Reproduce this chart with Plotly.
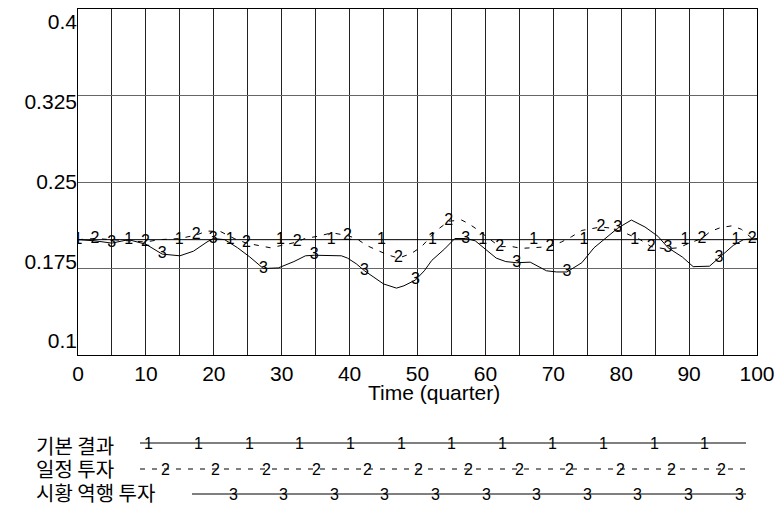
import numpy as np
import plotly.graph_objects as go

# ---------------- data ----------------
series_names = ["기본 결과", "일정 투자", "시황 역행 투자"]

# label positions along the curves (Vensim-style numbered lines)
label_t1 = [0, 7.45, 14.9, 22.4, 29.8, 37.3, 44.7, 52.2, 59.6, 67.1, 74.5, 82.0, 89.4, 96.9]
label_t2 = [2.48, 9.93, 17.4, 24.8, 32.3, 39.7, 47.2, 54.6, 62.1, 69.5, 77.0, 84.4, 91.9, 99.3]
label_t3 = [4.97, 12.4, 19.9, 27.3, 34.8, 42.2, 49.7, 57.1, 64.6, 72.0, 79.5, 86.9, 94.4]

# series 1: 기본 결과 (constant)
t1 = [0, 7.45, 14.9, 22.4, 29.8, 37.3, 44.7, 52.2, 59.6, 67.1, 74.5, 82.0, 89.4, 96.9, 100]
v1 = [0.2, 0.2, 0.2, 0.2, 0.2, 0.2, 0.2, 0.2, 0.2, 0.2, 0.2, 0.2, 0.2, 0.2, 0.2]

# series 2: 일정 투자
t2 = [0, 2.48, 5, 7.45, 9.93, 12, 15, 17.4, 19, 21, 23, 24.8, 26.3, 28.3, 30, 32.3,
      33.4, 35.4, 37.4, 39.7, 41, 42.5, 44, 45.7, 47.2, 49.1, 50.6, 52.8, 54.6, 56.5,
      57.5, 59, 60.5, 62.1, 63.9, 65.3, 67, 69.5, 71.2, 72.7, 74.2, 77.0, 78.5, 80.5,
      82.8, 84.4, 86.5, 88.5, 90, 91.9, 93.1, 94.6, 96.3, 97.7, 99.3, 100]
v2 = [0.200, 0.201, 0.200, 0.199, 0.198, 0.200, 0.201, 0.204, 0.2075, 0.207, 0.201,
      0.197, 0.1953, 0.193, 0.195, 0.198, 0.201, 0.203, 0.206, 0.2035, 0.201, 0.195,
      0.191, 0.1867, 0.184, 0.188, 0.194, 0.208, 0.216, 0.217, 0.214, 0.208, 0.201,
      0.194, 0.194, 0.1925, 0.193, 0.194, 0.198, 0.2026, 0.208, 0.211, 0.210, 0.206,
      0.200, 0.194, 0.192, 0.193, 0.197, 0.201, 0.207, 0.2104, 0.212, 0.209, 0.201, 0.199]

# series 3: 시황 역행 투자
t3 = [0, 2.5, 4.97, 7.45, 10, 12.4, 15, 17, 19, 19.9, 21.6, 23.5, 25.3, 27.3, 29.5,
      31.8, 33.5, 34.8, 38.8, 39.7, 41, 42.2, 45, 46.9, 48, 49.7, 51, 52.1, 54, 55.5,
      57.1, 58.5, 61.6, 63, 64.6, 66.6, 69, 70.5, 72.0, 74.2, 76, 79.5, 81.5, 83.5,
      85.4, 86.9, 89, 90.6, 93, 94.4, 96.5, 98, 100]
v3 = [0.200, 0.199, 0.197, 0.200, 0.196, 0.1875, 0.186, 0.190, 0.198, 0.201, 0.200,
      0.193, 0.185, 0.175, 0.1755, 0.181, 0.186, 0.1865, 0.186, 0.184, 0.179, 0.173,
      0.1616, 0.158, 0.160, 0.165, 0.173, 0.182, 0.192, 0.201, 0.201, 0.199, 0.184,
      0.181, 0.180, 0.1805, 0.173, 0.172, 0.172, 0.180, 0.193, 0.210, 0.217, 0.211,
      0.203, 0.193, 0.185, 0.1766, 0.177, 0.184, 0.195, 0.200, 0.201]

y_ticks = [0.1, 0.175, 0.25, 0.325, 0.4]
y_tick_labels = ["0.1", "0.175", "0.25", "0.325", "0.4"]
x_ticks = [0, 10, 20, 30, 40, 50, 60, 70, 80, 90, 100]
x_title = "Time (quarter)"

# ---------------- figure ----------------
W, H = 784, 506
L, R, T, B = 78, 27, 9, 151
PW, PH = W - L - R, H - T - B

NUM_FONT = dict(family="Liberation Sans, Arial, sans-serif", size=16, color="black")
AX_FONT = dict(family="Liberation Sans, Arial, sans-serif", size=21, color="black")
TITLE_FONT = dict(family="Liberation Sans, Arial, sans-serif", size=21, color="black")
KR_FONT = dict(family="Noto Sans CJK KR, sans-serif", size=20, color="black")
DASH2 = "5px,7px"


def texts(ts, labels, num):
    return [num if any(abs(t - lt) < 1e-6 for lt in labels) else "" for t in ts]


fig = go.Figure()
for (ts, vs, labs, num, dash, name) in [
    (t1, v1, label_t1, "1", "solid", series_names[0]),
    (t2, v2, label_t2, "2", DASH2, series_names[1]),
    (t3, v3, label_t3, "3", "solid", series_names[2]),
]:
    fig.add_trace(go.Scatter(
        x=ts, y=vs, mode="lines+text", name=name,
        text=texts(ts, labs, num), textposition="middle center",
        textfont=NUM_FONT,
        line=dict(color="black", width=1, dash=dash),
        showlegend=False, hoverinfo="x+y+name",
    ))

# helper (empty) trace on the label axis
fig.add_trace(go.Scatter(x=[None], y=[None], yaxis="y2", showlegend=False, hoverinfo="skip"))


def px2x(px):
    return (px - L) / PW


def py2y(py):
    return (H - B - py) / PH


# Vensim-style legend below the axis
shapes = []
annotations = []
legend_rows = [
    dict(text_y=445, line_y=443, x0=140, x1=746, first=148, count=12, num="1", dash="solid"),
    dict(text_y=468, line_y=469, x0=140, x1=746, first=165, count=12, num="2", dash=DASH2),
    dict(text_y=492, line_y=494, x0=192, x1=746, first=233, count=11, num="3", dash="solid"),
]
for name, row in zip(series_names, legend_rows):
    annotations.append(dict(
        x=px2x(34), y=py2y(row["text_y"]), xref="paper", yref="paper",
        text=name, showarrow=False, xanchor="left", yanchor="middle", font=KR_FONT,
    ))
    shapes.append(dict(
        type="line", xref="paper", yref="paper",
        x0=px2x(row["x0"]), x1=px2x(row["x1"]),
        y0=py2y(row["line_y"]), y1=py2y(row["line_y"]),
        line=dict(color="black", width=1, dash=row["dash"]),
    ))
    for k in range(row["count"]):
        annotations.append(dict(
            x=px2x(row["first"] + 50.6 * k), y=py2y(row["line_y"]),
            xref="paper", yref="paper", text=row["num"], showarrow=False,
            xanchor="center", yanchor="middle", font=NUM_FONT,
        ))

# x axis title (tight under tick labels, as in the reference)
annotations.append(dict(
    x=px2x(434), y=py2y(392), xref="paper", yref="paper", text=x_title,
    showarrow=False, xanchor="center", yanchor="middle", font=TITLE_FONT,
))

# label axis: Vensim spreads its y labels slightly inside the grid extent
lab_top = 0.4 + 13 * 0.3 / 319
lab_bot = 0.1 - 14 * 0.3 / 319

fig.update_layout(
    width=W, height=H,
    margin=dict(l=L, r=R, t=T, b=B, pad=0),
    paper_bgcolor="white", plot_bgcolor="white",
    shapes=shapes, annotations=annotations,
    xaxis=dict(
        range=[0, 100], tickvals=x_ticks, ticks="", showgrid=True,
        gridcolor="#222", gridwidth=1,
        minor=dict(dtick=5, showgrid=True, gridcolor="#222", gridwidth=1),
        showline=True, linecolor="black", linewidth=1, mirror=True,
        zeroline=False, tickfont=AX_FONT, automargin=False,
    ),
    yaxis=dict(
        range=[0.1, 0.4], tickvals=y_ticks, ticks="", showticklabels=False,
        showgrid=True, gridcolor="#666", gridwidth=1,
        showline=True, linecolor="black", linewidth=1, mirror=True,
        zeroline=False, automargin=False,
    ),
    yaxis2=dict(
        overlaying="y", side="left", anchor="x", type="linear",
        range=[lab_bot, lab_top], tickvals=y_ticks, ticktext=y_tick_labels,
        ticks="", showgrid=False, showline=False, zeroline=False,
        tickfont=AX_FONT, automargin=False, ticklabeloverflow="allow",
    ),
)

fig.write_html("out.html", config={"displayModeBar": False},
               post_script="document.body.style.margin='0';")
